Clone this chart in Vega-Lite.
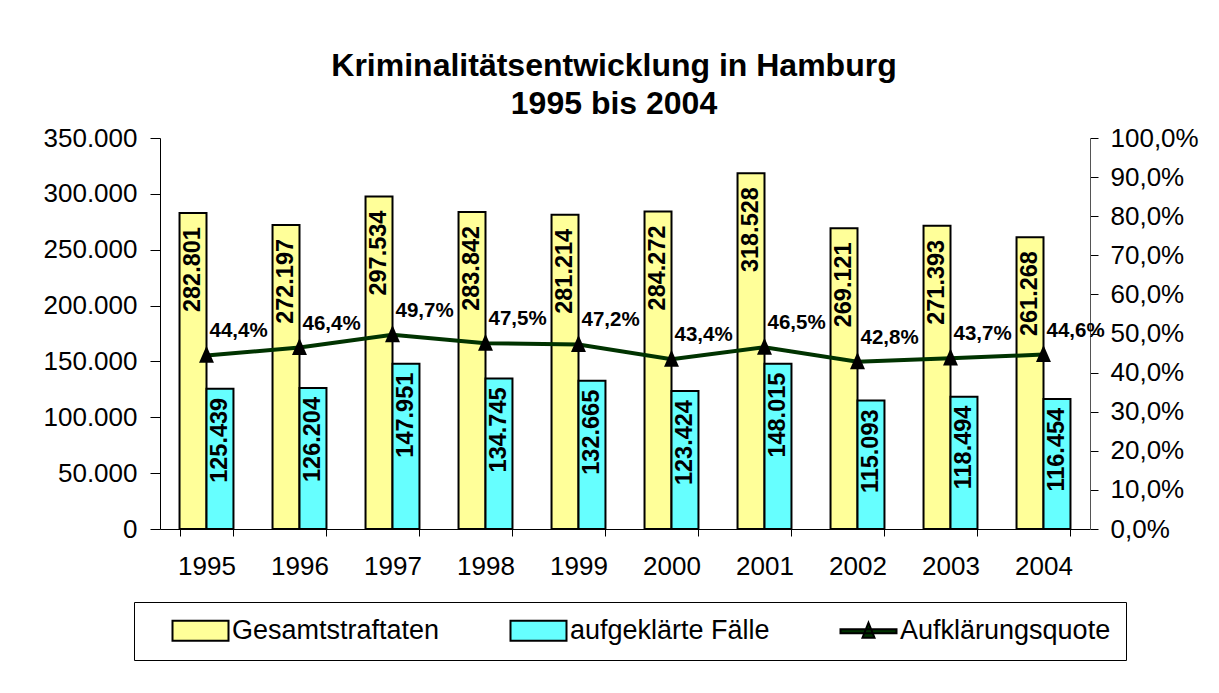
{
  "$schema": "https://vega.github.io/schema/vega-lite/v6.json",
  "width": 930,
  "height": 391,
  "autosize": {"type": "none"},
  "padding": {"left": 160, "top": 138, "right": 129, "bottom": 164},
  "background": "white",
  "title": {
    "text": ["Kriminalitätsentwicklung in Hamburg", "1995 bis 2004"],
    "fontSize": 32,
    "fontWeight": "bold",
    "font": "Liberation Sans",
    "lineHeight": 38,
    "anchor": "middle",
    "dx": -11,
    "offset": 4,
    "color": "black"
  },
  "datasets": {
    "bars": [
      {"year": "1995", "series": "Gesamtstraftaten", "value": 282801},
      {"year": "1995", "series": "aufgeklärte Fälle", "value": 125439},
      {"year": "1996", "series": "Gesamtstraftaten", "value": 272197},
      {"year": "1996", "series": "aufgeklärte Fälle", "value": 126204},
      {"year": "1997", "series": "Gesamtstraftaten", "value": 297534},
      {"year": "1997", "series": "aufgeklärte Fälle", "value": 147951},
      {"year": "1998", "series": "Gesamtstraftaten", "value": 283842},
      {"year": "1998", "series": "aufgeklärte Fälle", "value": 134745},
      {"year": "1999", "series": "Gesamtstraftaten", "value": 281214},
      {"year": "1999", "series": "aufgeklärte Fälle", "value": 132665},
      {"year": "2000", "series": "Gesamtstraftaten", "value": 284272},
      {"year": "2000", "series": "aufgeklärte Fälle", "value": 123424},
      {"year": "2001", "series": "Gesamtstraftaten", "value": 318528},
      {"year": "2001", "series": "aufgeklärte Fälle", "value": 148015},
      {"year": "2002", "series": "Gesamtstraftaten", "value": 269121},
      {"year": "2002", "series": "aufgeklärte Fälle", "value": 115093},
      {"year": "2003", "series": "Gesamtstraftaten", "value": 271393},
      {"year": "2003", "series": "aufgeklärte Fälle", "value": 118494},
      {"year": "2004", "series": "Gesamtstraftaten", "value": 261268},
      {"year": "2004", "series": "aufgeklärte Fälle", "value": 116454}
    ],
    "quote": [
      {"year": "1995", "quote": 0.444},
      {"year": "1996", "quote": 0.464},
      {"year": "1997", "quote": 0.497},
      {"year": "1998", "quote": 0.475},
      {"year": "1999", "quote": 0.472},
      {"year": "2000", "quote": 0.434},
      {"year": "2001", "quote": 0.465},
      {"year": "2002", "quote": 0.428},
      {"year": "2003", "quote": 0.437},
      {"year": "2004", "quote": 0.446}
    ]
  },
  "layer": [
    {
      "data": {"name": "bars"},
      "encoding": {
        "x": {
          "field": "year",
          "type": "ordinal",
          "title": null,
          "scale": {"paddingInner": 0.42, "paddingOuter": 0.21},
          "axis": {
            "labelAngle": 0,
            "tickBand": "extent",
            "tickSize": 7,
            "labelPadding": 17,
            "labelFontSize": 26,
            "labelColor": "black",
            "domainColor": "black",
            "tickColor": "black",
            "grid": false
          }
        },
        "xOffset": {
          "field": "series",
          "type": "nominal",
          "scale": {"domain": ["Gesamtstraftaten", "aufgeklärte Fälle"], "paddingInner": 0, "paddingOuter": 0}
        },
        "y": {
          "field": "value",
          "type": "quantitative",
          "title": null,
          "scale": {"domain": [0, 350000], "nice": false},
          "axis": {
            "values": [0, 50000, 100000, 150000, 200000, 250000, 300000, 350000],
            "format": ",.0f",
            "tickSize": 10,
            "labelPadding": 13,
            "labelFontSize": 26,
            "labelColor": "black",
            "domainColor": "black",
            "tickColor": "black",
            "grid": false
          }
        }
      },
      "layer": [
        {
          "mark": {"type": "bar", "stroke": "black", "strokeWidth": 2},
          "encoding": {
            "color": {
              "field": "series",
              "type": "nominal",
              "scale": {
                "domain": ["Gesamtstraftaten", "aufgeklärte Fälle", "Aufklärungsquote"],
                "range": ["#FFFF99", "#66FFFF", "#003300"]
              },
              "legend": {"title": null, "orient": "none", "legendX": -26, "legendY": 464}
            }
          }
        },
        {
          "transform": [{"filter": "datum.series === 'Gesamtstraftaten'"}],
          "mark": {"type": "text", "angle": 270, "align": "right", "baseline": "middle", "dx": -14, "fontSize": 23.5, "fontWeight": "bold", "color": "black"},
          "encoding": {"text": {"field": "value", "type": "quantitative", "format": ",.0f"}}
        },
        {
          "transform": [{"filter": "datum.series === 'aufgeklärte Fälle'"}],
          "mark": {"type": "text", "angle": 270, "align": "right", "baseline": "middle", "dx": -9, "fontSize": 23.5, "fontWeight": "bold", "color": "black"},
          "encoding": {"text": {"field": "value", "type": "quantitative", "format": ",.0f"}}
        },
        {
          "transform": [{"filter": "false"}],
          "mark": {"type": "point", "filled": true, "stroke": "black", "strokeWidth": 2, "opacity": 1},
          "encoding": {
            "color": {"field": "series", "type": "nominal", "legend": {"title": null, "orient": "none", "legendX": -26, "legendY": 464}},
            "shape": {
              "field": "series",
              "type": "nominal",
              "scale": {
                "domain": ["Gesamtstraftaten", "aufgeklärte Fälle", "Aufklärungsquote"],
                "range": ["M1,-1H6.6V1H1Z", "M1,-1H6.6V1H1Z", "M1,-0.2H6.6V0.2H1Z M3.8,-0.85L4.4,0.65H3.2Z"]
              },
              "legend": {"title": null, "orient": "none", "legendX": -26, "legendY": 464}
            }
          }
        }
      ]
    },
    {
      "data": {"name": "quote"},
      "encoding": {
        "x": {"field": "year", "type": "ordinal"},
        "y": {
          "field": "quote",
          "type": "quantitative",
          "title": null,
          "scale": {"domain": [0, 1], "nice": false},
          "axis": {
            "orient": "right",
            "values": [0, 0.1, 0.2, 0.3, 0.4, 0.5, 0.6, 0.7, 0.8, 0.9, 1.0],
            "format": ".1%",
            "tickSize": 8,
            "labelPadding": 12,
            "labelFontSize": 26,
            "labelColor": "black",
            "domainColor": "#555555",
            "tickColor": "black",
            "grid": false
          }
        }
      },
      "layer": [
        {
          "mark": {"type": "line", "strokeWidth": 4, "color": "#003300"}
        },
        {
          "mark": {"type": "point", "shape": "M0,-1.15L0.9,0.9L-0.9,0.9Z", "filled": true, "color": "black", "size": 276, "opacity": 1}
        },
        {
          "mark": {"type": "text", "align": "left", "baseline": "middle", "dx": 3, "dy": -24, "fontSize": 20.5, "fontWeight": "bold", "color": "black"},
          "encoding": {"text": {"field": "quote", "type": "quantitative", "format": ".1%"}}
        }
      ]
    }
  ],
  "resolve": {"scale": {"y": "independent"}},
  "config": {
    "locale": {
      "number": {"decimal": ",", "thousands": ".", "grouping": [3], "currency": ["", " €"]}
    },
    "font": "Liberation Sans",
    "view": {"stroke": null},
    "axis": {"labelFont": "Liberation Sans", "domainWidth": 1, "tickWidth": 1},
    "legend": {
      "direction": "horizontal",
      "columns": 3,
      "padding": 15,
      "strokeColor": "black",
      "fillColor": "white",
      "symbolSize": 400,
      "symbolType": "M1,-1H6.6V1H1Z",
      "symbolStrokeWidth": 2,
      "symbolOpacity": 1,
      "labelFontSize": 27,
      "labelFont": "Liberation Sans",
      "labelColor": "black",
      "labelOffset": 56,
      "labelLimit": 400,
      "columnPadding": 47
    }
  }
}
